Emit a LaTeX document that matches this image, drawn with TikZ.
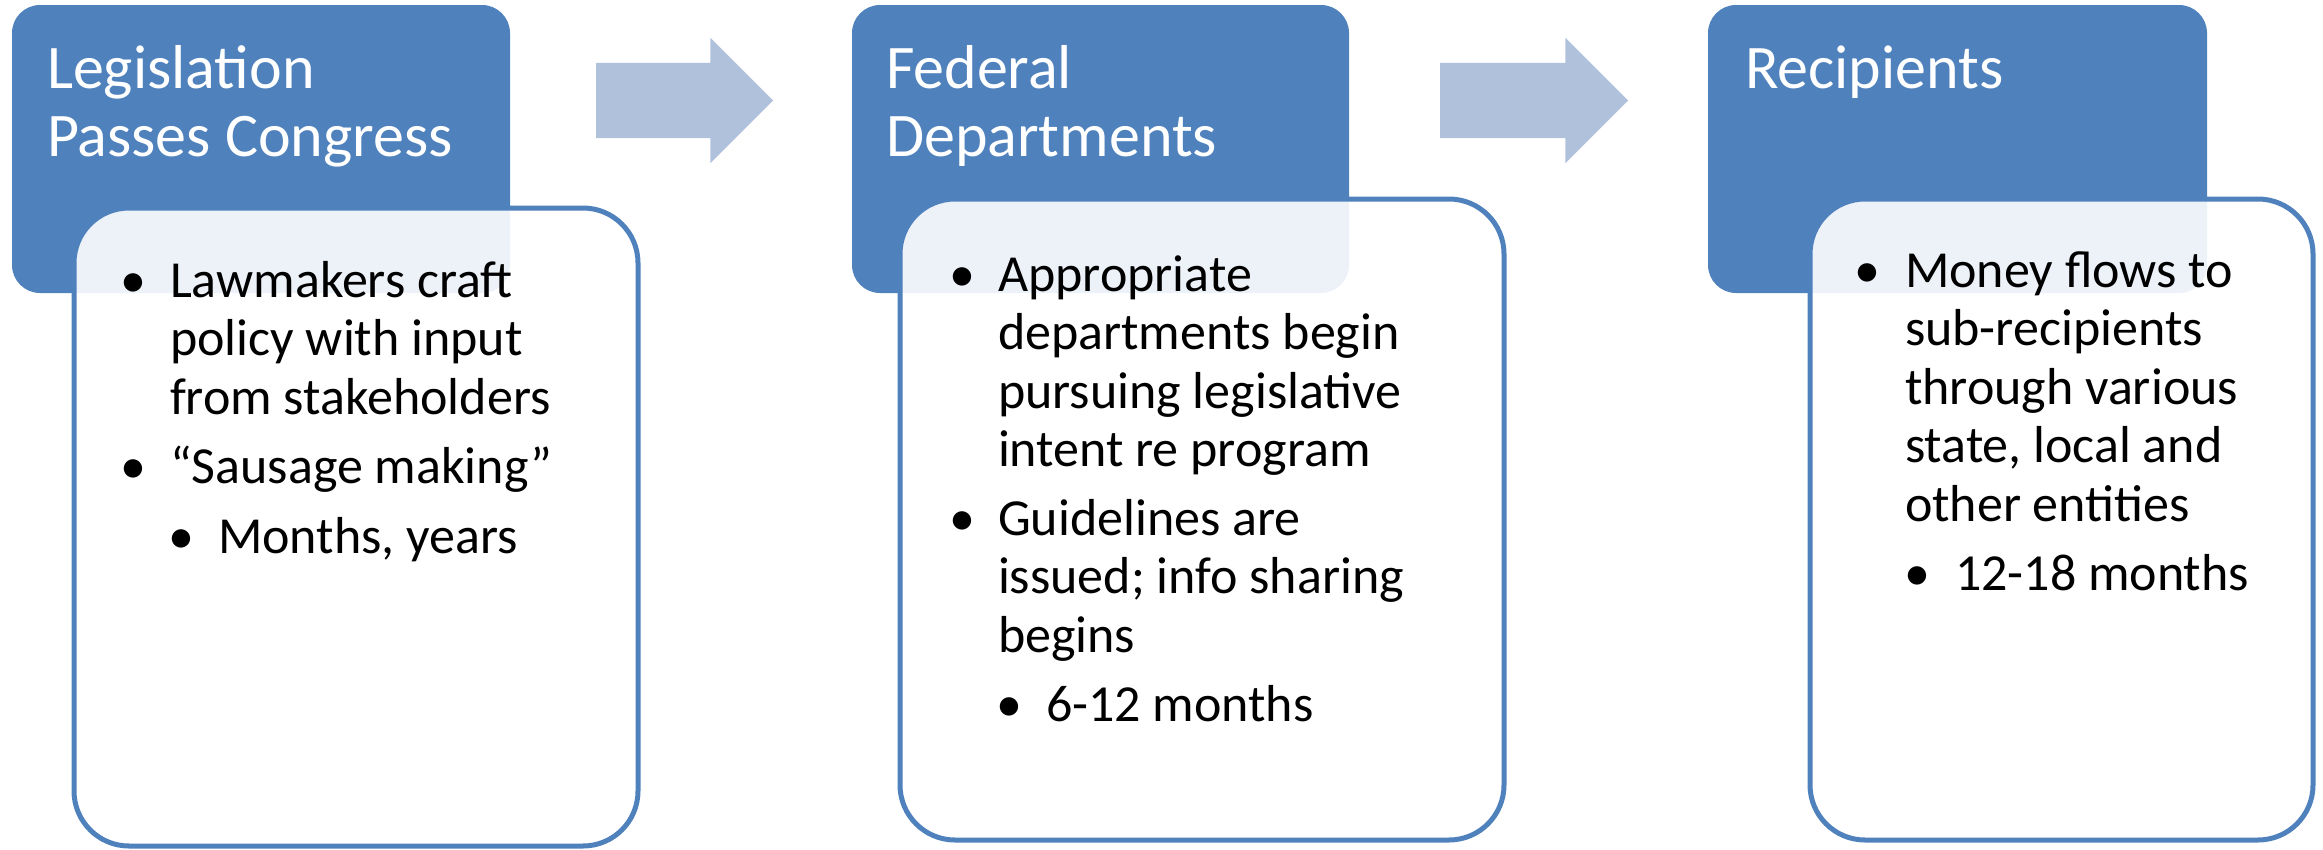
\documentclass[tikz,border=0pt]{standalone}
\usepackage{fontspec}
\setmainfont{Carlito}
\usetikzlibrary{positioning,shapes.arrows}
\definecolor{stepblue}{RGB}{79,129,189}
\definecolor{arrowblue}{RGB}{176,193,220}

\begin{document}
\begin{tikzpicture}[x=1pt,y=-1pt,inner sep=0pt,outer sep=0pt,
header/.style={fill=stepblue,rounded corners=28pt,minimum height=288pt},
body/.style={draw=stepblue,line width=5pt,fill=white,fill opacity=0.9,
  rounded corners=55pt},
headtext/.style={anchor=base west,align=left,text=white,
  font=\fontsize{62}{68}\selectfont},
bodytext/.style={anchor=base west,align=left,
  font=\fontsize{52}{58.5}\selectfont},
dot/.style={anchor=base,font=\fontsize{52}{58.5}\selectfont},
flowarrow/.style={single arrow,fill=arrowblue,anchor=tail,minimum width=125pt,
  inner xsep=0pt,inner ysep=37.5pt,
  single arrow head extend=25pt,single arrow tip angle=90}]
\useasboundingbox (0,0) rectangle (2323,849);

% step headers
\node[header,minimum width=498pt] (h1) at (261,149) {};
\node[header,minimum width=497pt] (h2) at (1100.5,149) {};
\node[header,minimum width=499pt] (h3) at (1957.5,149) {};
\node[headtext] (ht1) at ([xshift=35pt,yshift=-151pt]h1.north west) {Legislation\\Passes Congress};
\node[headtext] (ht2) at ([xshift=34pt,yshift=-151pt]h2.north west) {Federal\\Departments};
\node[headtext] (ht3) at ([xshift=37pt,yshift=-83pt]h3.north west) {Recipients};

% arrows between steps
\node[flowarrow,minimum height=177pt] (a1) at (596,100.5) {};
\node[flowarrow,minimum height=188pt] (a2) at (1440,100.5) {};

% detail boxes
\node[body,minimum width=564pt,minimum height=638pt] (b1) at (356,527) {};
\node[body,minimum width=604pt,minimum height=641pt] (b2) at (1202,519.5) {};
\node[body,minimum width=503pt,minimum height=641pt] (b3) at (2061.5,519.5) {};

% box 1 (base = last line)
\node[dot] (d11) at (133,297) {•};
\node[bodytext] (t11) at (170,414) {Lawmakers craft\\policy with input\\from stakeholders};
\node[dot] (d12) at (133,483) {•};
\node[bodytext] (t12) at (170,483) {“Sausage making”};
\node[dot] (d13) at (181,553) {•};
\node[bodytext] (t13) at (218,553) {Months, years};

% box 2
\node[dot] (d21) at (962,291) {•};
\node[bodytext] (t21) at (998,466.5) {Appropriate\\departments begin\\pursuing legislative\\intent re program};
\node[dot] (d22) at (962,535) {•};
\node[bodytext] (t22) at (998,652) {Guidelines are\\issued; info sharing\\begins};
\node[dot] (d23) at (1009,721) {•};
\node[bodytext] (t23) at (1046,721) {6-12 months};

% box 3
\node[dot] (d31) at (1867,287) {•};
\node[bodytext] (t31) at (1905,521) {Money flows to\\sub-recipients\\through various\\state, local and\\other entities};
\node[dot] (d32) at (1917,590) {•};
\node[bodytext] (t32) at (1955,590) {12-18 months};

\end{tikzpicture}
\end{document}
